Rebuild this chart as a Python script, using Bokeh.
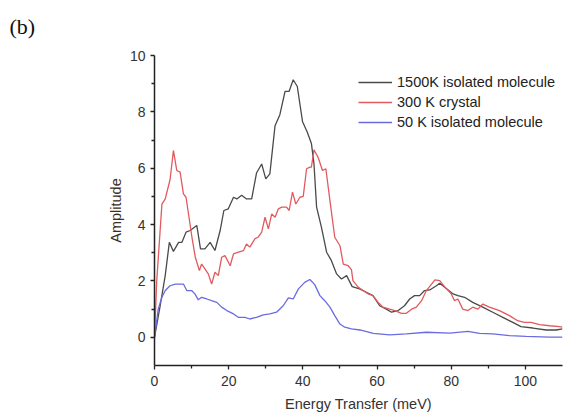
from bokeh.plotting import figure
from bokeh.models import FixedTicker, Legend, LegendItem, Range1d, Title
from bokeh.embed import file_html
from bokeh.resources import INLINE

# ---- data ----
x_1500 = [0, 1.5, 2.9, 4.0, 5.1, 6.5, 7.4, 8.5, 9.6, 11.4, 12.4, 13.6, 15.0, 16.3, 17.7, 18.7, 19.9,
          21.3, 22.2, 23.5, 24.8, 26.2, 27.5, 28.9, 30.0, 31.1, 32.5, 33.8, 35.2, 36.3, 37.4, 38.5,
          39.9, 41.2, 42.3, 43.0, 43.7, 45.0, 46.4, 47.7, 49.1, 50.4, 51.8, 53.3, 55.3, 57.1, 58.9,
          60.7, 62.5, 63.9, 65.7, 67.4, 68.8, 70.1, 71.5, 72.8, 74.2, 76.0, 76.9, 78.5, 80.5, 81.8,
          83.6, 85.8, 88.5, 91.2, 93.9, 96.6, 98.8, 102.0, 105.6, 108.3, 110]
y_1500 = [0, 1.1, 2.2, 3.37, 3.05, 3.37, 3.37, 3.73, 3.79, 3.97, 3.14, 3.14, 3.37, 3.08, 3.79, 4.5, 4.56,
          4.97, 4.91, 5.04, 4.91, 4.91, 5.83, 6.15, 5.62, 5.8, 7.51, 7.9, 8.73, 8.73, 9.14, 8.9,
          7.66, 7.28, 6.88, 6.15, 4.62, 3.91, 3.02, 2.72, 2.25, 2.07, 2.19, 1.8, 1.72, 1.6, 1.48,
          1.12, 1.0, 0.89, 0.95, 1.12, 1.36, 1.48, 1.48, 1.66, 1.68, 1.83, 1.92, 1.75, 1.54, 1.48,
          1.42, 1.24, 1.07, 0.89, 0.71, 0.53, 0.38, 0.33, 0.26, 0.26, 0.3]

x_300 = [0, 0.6, 2.0, 2.9, 4.2, 5.1, 6.0, 6.9, 7.8, 8.5, 10.1, 11.0, 12.1, 12.7, 13.6, 14.5, 15.4, 16.3,
         17.2, 18.1, 19.0, 20.4, 21.3, 22.6, 24.0, 24.8, 25.7, 27.1, 27.9, 28.9, 29.8, 30.7, 31.6,
         32.5, 33.4, 34.3, 35.6, 36.3, 37.2, 38.1, 39.2, 40.1, 41.0, 41.9, 42.3, 43.0, 44.1, 45.3,
         46.2, 47.3, 48.6, 50.0, 50.9, 52.2, 53.1, 53.5, 54.9, 56.2, 57.6, 58.9, 60.3, 61.6, 63.4,
         64.8, 66.6, 67.9, 69.3, 70.6, 72.0, 73.3, 74.7, 75.6, 76.9, 78.2, 80.0, 80.9, 81.8, 83.1,
         84.5, 85.8, 87.2, 88.5, 90.3, 93.0, 95.7, 97.9, 99.7, 101.5, 103.8, 106.5, 109.2, 110]
y_300 = [0, 2.0, 4.73, 4.91, 5.6, 6.63, 5.92, 5.86, 5.09, 4.97, 3.55, 2.84, 2.37, 2.6, 2.43, 2.25, 1.89, 2.31,
         2.19, 2.84, 2.9, 2.54, 2.96, 3.02, 3.08, 3.31, 3.2, 3.5, 3.55, 3.73, 4.26, 3.85, 4.38,
         4.26, 4.56, 4.62, 4.62, 4.5, 5.15, 4.73, 4.97, 5.0, 5.98, 6.04, 6.04, 6.65, 6.39, 5.92,
         5.98, 4.85, 3.55, 3.25, 2.6, 2.54, 2.4, 2.01, 1.78, 1.66, 1.54, 1.48, 1.24, 1.07, 1.0,
         0.95, 0.85, 0.85, 1.0, 1.07, 1.3, 1.66, 1.89, 2.04, 2.01, 1.8, 1.54, 1.3, 1.36, 1.0,
         0.95, 1.07, 1.0, 1.18, 1.07, 0.95, 0.77, 0.59, 0.53, 0.53, 0.45, 0.41, 0.38, 0.36]

x_50 = [0, 1.0, 2.0, 2.9, 4.2, 5.6, 7.8, 8.7, 10.0, 10.9, 11.8, 12.7, 14.1, 15.4, 16.8, 18.1, 19.5,
        21.3, 22.6, 24.4, 25.7, 27.5, 29.3, 31.1, 32.9, 34.7, 36.1, 37.4, 38.8, 40.5, 41.9, 43.2,
        44.6, 45.9, 47.3, 48.6, 50.0, 51.3, 53.1, 55.4, 59.0, 63.4, 67.9, 73.3, 79.6, 84.5, 87.6,
        91.2, 95.7, 100.2, 106.5, 110]
y_50 = [0, 1.0, 1.42, 1.66, 1.83, 1.89, 1.89, 1.66, 1.66, 1.54, 1.33, 1.42, 1.36, 1.3, 1.24, 1.07, 0.95,
        0.83, 0.71, 0.71, 0.65, 0.71, 0.8, 0.83, 0.89, 1.12, 1.4, 1.36, 1.72, 1.95, 2.05, 1.87,
        1.48, 1.3, 1.07, 0.77, 0.47, 0.36, 0.3, 0.26, 0.14, 0.09, 0.12, 0.18, 0.15, 0.21, 0.14,
        0.12, 0.06, 0.03, 0.01, 0.01]

series_labels = ["1500K isolated molecule", "300 K crystal", "50 K isolated molecule"]
panel_tag = "(b)"
x_major = [0, 20, 40, 60, 80, 100]
x_minor = [10, 30, 50, 70, 90]
y_major = [0, 2, 4, 6, 8, 10]
y_minor = [1, 3, 5, 7, 9]

FONT = "Liberation Sans"

p = figure(width=563, height=416, output_backend="svg", toolbar_location=None,
           x_range=Range1d(0, 110), y_range=Range1d(-1, 10),
           min_border_left=154, min_border_right=1, min_border_top=55, min_border_bottom=51)
p.outline_line_color = None
p.grid.visible = False
p.background_fill_color = "white"
p.border_fill_color = "white"

p.title.text = panel_tag
p.title.align = "left"
p.title.offset = -145
p.title.text_font = "Liberation Serif"
p.title.text_font_size = "22px"
p.title.text_font_style = "normal"
p.title.text_color = "#111111"
# empty spacer title between the tag and the frame, to lift the tag
p.add_layout(Title(text=" ", text_font_size="9px", standoff=0), "above")

r1 = p.line(x_1500, y_1500, line_color="#4a4a4a", line_width=1.3)
r2 = p.line(x_300, y_300, line_color="#e25a5e", line_width=1.3)
r3 = p.line(x_50, y_50, line_color="#6b6be0", line_width=1.3)

for ax, maj, mnr in ((p.xaxis[0], x_major, x_minor), (p.yaxis[0], y_major, y_minor)):
    ax.ticker = FixedTicker(ticks=maj, minor_ticks=mnr)
    ax.axis_line_color = "#222222"
    ax.axis_line_width = 1.5
    ax.major_tick_line_color = "#222222"
    ax.minor_tick_line_color = "#222222"
    ax.major_tick_line_width = 1.3
    ax.minor_tick_line_width = 1.3
    ax.major_tick_in = 0
    ax.major_tick_out = 4
    ax.minor_tick_in = 0
    ax.minor_tick_out = 3
    ax.major_label_text_font = FONT
    ax.major_label_text_font_size = "14px"
    ax.major_label_text_color = "#333333"
    ax.axis_label_text_font = FONT
    ax.axis_label_text_font_size = "14.5px"
    ax.axis_label_text_font_style = "normal"
    ax.axis_label_text_color = "#333333"

p.xaxis.major_label_standoff = 6
p.yaxis.major_label_standoff = 5
p.xaxis.axis_label = "Energy Transfer (meV)"
p.xaxis.axis_label_standoff = 7
p.yaxis.axis_label = "Amplitude"
p.yaxis.axis_label_text_color = "#3a2e22"
p.yaxis.axis_label_standoff = 3

legend = Legend(items=[LegendItem(label=series_labels[0], renderers=[r1]),
                       LegendItem(label=series_labels[1], renderers=[r2]),
                       LegendItem(label=series_labels[2], renderers=[r3])],
                location=(204, 233))
legend.border_line_color = None
legend.background_fill_alpha = 0
legend.padding = 0
legend.margin = 0
legend.spacing = 0
legend.glyph_width = 34
legend.glyph_height = 20
legend.label_height = 20
legend.label_standoff = 5
legend.label_text_font = FONT
legend.label_text_font_size = "14.5px"
legend.label_text_color = "#222222"
p.add_layout(legend)

open("out.html", "w").write(file_html(p, INLINE))
